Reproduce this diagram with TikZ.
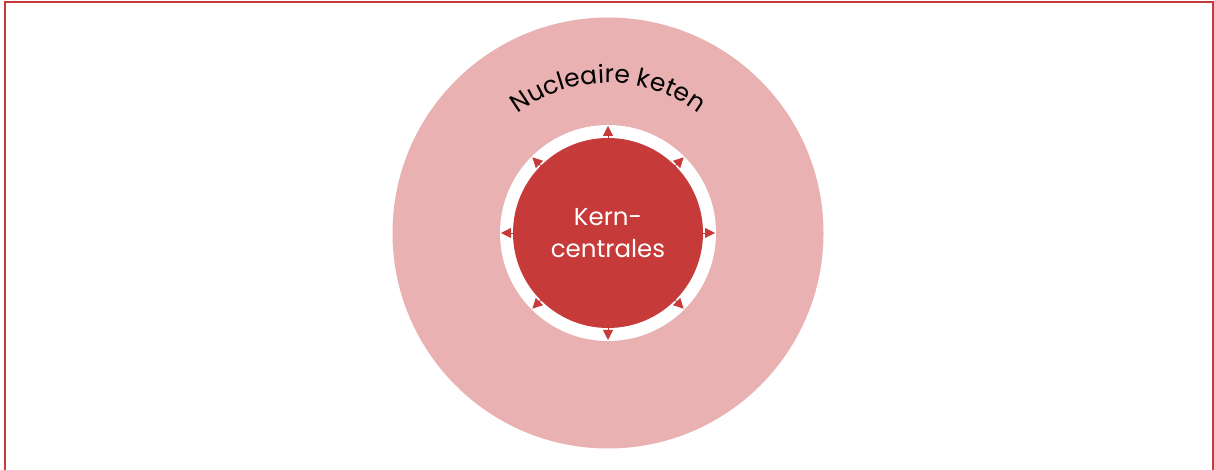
\documentclass[tikz,border=0pt]{standalone}
\usepackage{fontspec}
\setmainfont{Poppins}
\usetikzlibrary{decorations.text,arrows.meta,calc}
\definecolor{kred}{HTML}{C63A3A}
\definecolor{kpink}{HTML}{E9B1B1}
\tikzset{
  ring/.style={circle, inner sep=0pt, draw=none},
  outarrow/.style={draw=kred, line width=0.8pt, -{Triangle[length=10pt,width=10pt]}},
  frameline/.style={draw=kred, line width=2pt}
}
\begin{document}
\begin{tikzpicture}[x=1pt,y=1pt]
\useasboundingbox (0,0) rectangle (1214,470);
\fill[white] (0,0) rectangle (1214,470);
\draw[frameline] (5,-2) -- (5,468) -- (1213,468) -- (1213,-2);
\coordinate (c) at (608,237);
\node[ring, fill=kpink, minimum size=431pt] (outer) at (c) {};
\node[ring, fill=white, minimum size=216pt] (gap) at (c) {};
\node[ring, fill=kred, minimum size=190pt, text=white, align=center,
      font=\fontsize{24.5}{32}\selectfont] (core) at (c) {Kern-\\centrales};
\foreach \a in {0,45,...,315} {
  \coordinate (s\a) at ($(c)+(\a:95)$);
  \coordinate (t\a) at ($(c)+(\a:107)$);
  \draw[outarrow] (s\a) -- (t\a);
}
\path[decorate, decoration={text along path, text align=center,
  text={|\fontsize{25}{30}\selectfont|Nucleaire keten}}]
  ($(c)+(165:150)$) arc[start angle=165, end angle=15, radius=150];
\end{tikzpicture}
\end{document}
